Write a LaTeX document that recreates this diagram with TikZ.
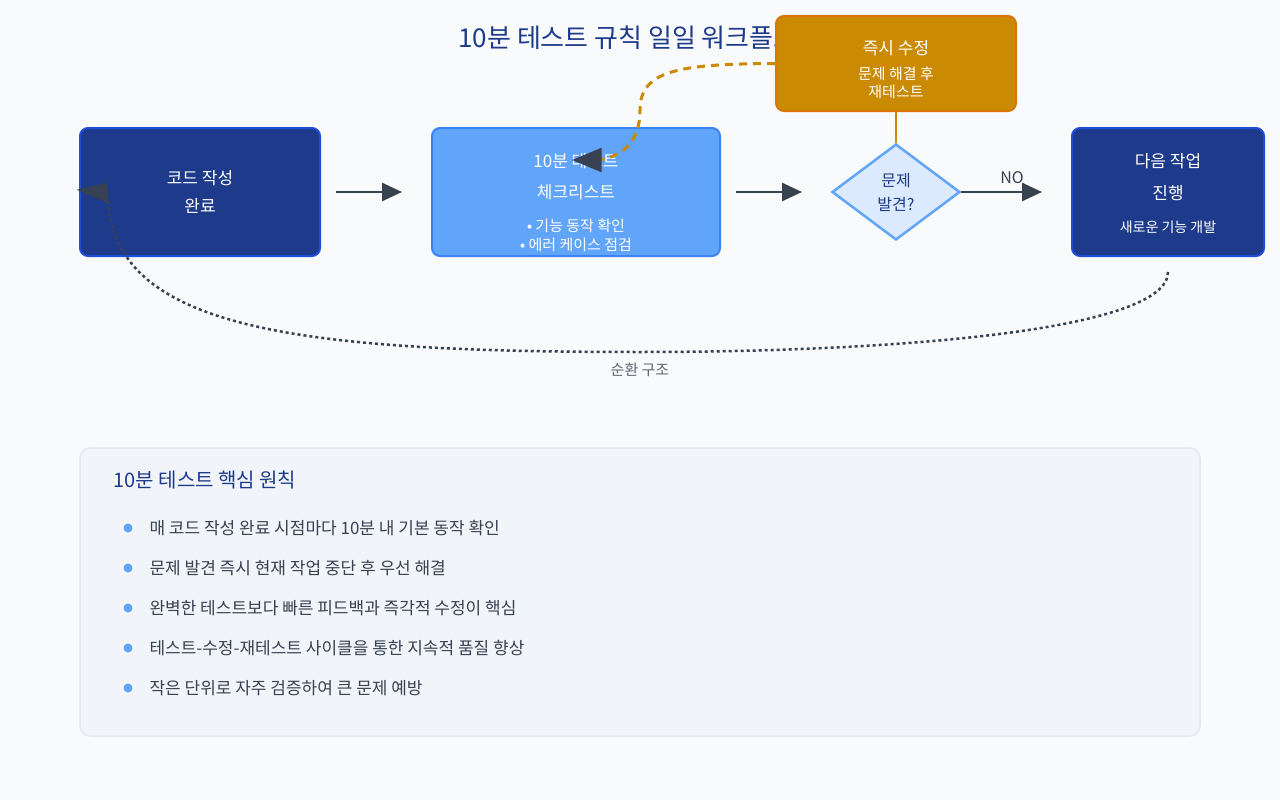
\documentclass[tikz,border=0pt]{standalone}
\usepackage{fontspec}
\setmainfont{Noto Sans CJK KR}
\usetikzlibrary{shapes.geometric,arrows.meta}
\definecolor{navy}{HTML}{1E3A8A}
\definecolor{navyb}{HTML}{1D4ED8}
\definecolor{lblue}{HTML}{60A5FA}
\definecolor{lblueb}{HTML}{3B82F6}
\definecolor{gold}{HTML}{CA8A04}
\definecolor{goldb}{HTML}{D97706}
\definecolor{dark}{HTML}{374151}
\definecolor{bg}{HTML}{F8FAFC}
\definecolor{panel}{HTML}{F1F5F9}
\definecolor{panelb}{HTML}{E2E8F0}
\definecolor{dfill}{HTML}{DBEAFE}
\tikzset{
 box/.style={rounded corners=8pt,line width=2pt,align=center,text=white},
 arr/.style={line width=2.5pt,draw=dark,-{Triangle[length=20pt,width=18pt]}},
 bul/.style={circle,fill=lblue,inner sep=0pt,minimum size=9pt},
 item/.style={anchor=west,font=\fontsize{17}{20}\selectfont,text=dark}
}
\begin{document}
\begin{tikzpicture}[x=1pt,y=-1pt]
\fill[bg] (0,0) rectangle (1280,800);
\useasboundingbox (0,0) rectangle (1280,800);
\node[font=\fontsize{26}{30}\selectfont,text=navy] (title) at (640,38) {10분 테스트 규칙 일일 워크플로우};
\node[box,fill=navy,draw=navyb,minimum width=240pt,minimum height=128pt] (b1) at (200,192) {\fontsize{17}{20}\selectfont 코드 작성\\[12pt]\fontsize{17}{20}\selectfont 완료};
\node[box,fill=lblue,draw=lblueb,minimum width=288pt,minimum height=128pt] (b2) at (576,192) {};
\node[text=white,font=\fontsize{17}{20}\selectfont] (b2a) at (576,161) {10분 테스트};
\node[text=white,font=\fontsize{17}{20}\selectfont] (b2b) at (576,192) {체크리스트};
\node[text=white,font=\fontsize{15}{19}\selectfont,align=center] (b2c) at (576,235) {• 기능 동작 확인\\• 에러 케이스 점검};
\node[box,fill=gold,draw=goldb,minimum width=240pt,minimum height=95pt] (fix) at (896,63.5) {};
\node[text=white,font=\fontsize{17}{20}\selectfont] (fixa) at (896,48) {즉시 수정};
\node[text=white,font=\fontsize{15}{18}\selectfont,align=center] (fixb) at (896,83) {문제 해결 후\\재테스트};
\node[diamond,aspect=1.33,fill=dfill,draw=lblue,line width=2.5pt,minimum width=128pt,minimum height=96pt,inner sep=0pt,align=center,text=navy,font=\fontsize{16}{24}\selectfont] (d) at (896,192) {문제\\발견?};
\node[box,fill=navy,draw=navyb,minimum width=192pt,minimum height=128pt] (b3) at (1168,192) {};
\node[text=white,font=\fontsize{17}{20}\selectfont] (b3a) at (1168,161) {다음 작업};
\node[text=white,font=\fontsize{17}{20}\selectfont] (b3b) at (1168,193) {진행};
\node[text=white,font=\fontsize{14}{18}\selectfont] (b3c) at (1168,227) {새로운 기능 개발};
\coordinate (a1s) at (336,192); \coordinate (a1e) at (402,192);
\draw[arr] (a1s) -- (a1e);
\coordinate (a2s) at (736,192); \coordinate (a2e) at (802,192);
\draw[arr] (a2s) -- (a2e);
\draw[arr] (d.east) -- (1042,192);
\node[text=dark,font=\fontsize{16}{20}\selectfont] (no) at (1012,178) {NO};
\draw[gold,line width=2.5pt] (fix.south) -- (d.north);
\coordinate (ce) at (576,160);
\draw[gold,line width=3pt,dash pattern=on 8pt off 6pt] (fix.west) .. controls (680,64) and (640,70) .. (640,110) .. controls (640,140) and (625,155) .. (600,160);
\draw[dark,line width=3pt,fill=dark] (576,160) -- (600,150) -- (600,170) -- cycle;
\coordinate (ls) at (1168,272);
\draw[dark,line width=2.5pt,dash pattern=on 3pt off 3pt] (ls) .. controls (1168,330) and (900,352) .. (640,352) .. controls (300,352) and (115,330) .. (108,200);
\draw[dark,fill=dark,line width=2pt] (80,190) -- (106,184) -- (108,202) -- cycle;
\node[text=dark!80,font=\fontsize{15}{18}\selectfont] (cyc) at (640,370) {순환 구조};
\draw[fill=panel,draw=panelb,line width=1.5pt,rounded corners=10pt] (80,448) rectangle (1200,736);
\node[anchor=west,text=navy,font=\fontsize{20}{24}\selectfont] (h) at (110,480) {10분 테스트 핵심 원칙};
\foreach \y/\t in {528/매 코드 작성 완료 시점마다 10분 내 기본 동작 확인,568/문제 발견 즉시 현재 작업 중단 후 우선 해결,608/완벽한 테스트보다 빠른 피드백과 즉각적 수정이 핵심,648/테스트-수정-재테스트 사이클을 통한 지속적 품질 향상,688/작은 단위로 자주 검증하여 큰 문제 예방}{
 \node[bul] at (128,\y) {};
 \node[item] at (146,\y) {\t};
}
\end{tikzpicture}
\end{document}
